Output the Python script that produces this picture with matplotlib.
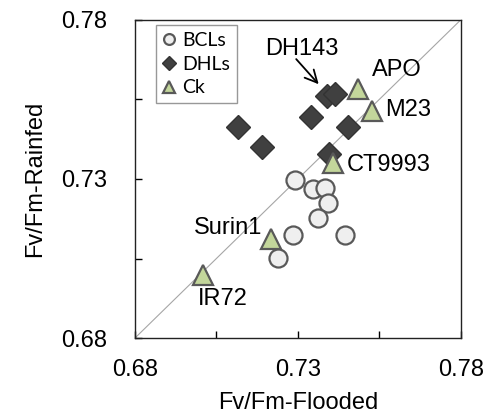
import matplotlib
matplotlib.use("Agg")
import matplotlib.pyplot as plt

plt.rcParams['font.family'] = ['Liberation Sans', 'DejaVu Sans']

# BCLs
bcl_x = [0.7291, 0.7346, 0.7383, 0.7394, 0.7363, 0.7284, 0.7445, 0.7240]
bcl_y = [0.7298, 0.7267, 0.7272, 0.7223, 0.7178, 0.7125, 0.7125, 0.7052]

# DHLs
dhl_x = [0.7117, 0.7189, 0.7342, 0.7389, 0.7415, 0.7455, 0.7397]
dhl_y = [0.7463, 0.7401, 0.7496, 0.7561, 0.7566, 0.7463, 0.7380]

# checks
ck_names = ['APO', 'M23', 'CT9993', 'Surin1', 'IR72']
ck_x = [0.7486, 0.7529, 0.7409, 0.7217, 0.7010]
ck_y = [0.7582, 0.7514, 0.7351, 0.7112, 0.6999]

xticks = [0.68, 0.705, 0.73, 0.755, 0.78]
tick_labels = ['0.68', '', '0.73', '', '0.78']

fs = 17

fig = plt.figure(figsize=(4.86, 4.19), dpi=100)
ax = fig.add_axes([0.2778, 0.1933, 0.670, 0.759])

ax.plot([0.68, 0.78], [0.68, 0.78], color='#a6a6a6', lw=0.8, zorder=1)

ax.plot(bcl_x, bcl_y, 'o', ms=13, mfc='#efefef', mec='#595959', mew=1.6,
        ls='none', label='BCLs', zorder=3)
ax.plot(dhl_x, dhl_y, 'D', ms=12, mfc='#404040', mec='#333333', mew=1,
        ls='none', label='DHLs', zorder=3)
ax.plot(ck_x, ck_y, '^', ms=15, mfc='#c3d69b', mec='#595959', mew=1.6,
        ls='none', label='Ck', zorder=4)

# label offsets (points) for each check
offsets = {'APO': (10, 14, 'left'), 'M23': (9, 1, 'left'),
           'CT9993': (10, -1.5, 'left'), 'Surin1': (-6, 8, 'right'),
           'IR72': (14, -17.5, 'center')}
for name, x, y in zip(ck_names, ck_x, ck_y):
    dx, dy, ha = offsets[name]
    ax.annotate(name, (x, y), xytext=(dx, dy), textcoords='offset points',
                ha=ha, va='center', fontsize=fs)

ax.text(0.7313, 0.7709, 'DH143', ha='center', va='center', fontsize=fs)
ax.annotate('', xy=(0.7364, 0.7598), xytext=(0.7295, 0.7677),
            arrowprops=dict(arrowstyle='->', color='black', lw=1.3,
                            mutation_scale=22, shrinkA=0, shrinkB=0))

ax.set_xlim(0.68, 0.78)
ax.set_ylim(0.68, 0.78)
ax.set_xticks(xticks)
ax.set_xticklabels(tick_labels)
ax.set_yticks(xticks)
ax.set_yticklabels(tick_labels)
ax.tick_params(axis='x', direction='in', length=5, width=1, pad=15, labelsize=fs)
ax.tick_params(axis='y', direction='in', length=5, width=1, pad=20, labelsize=fs)
for s in ax.spines.values():
    s.set_linewidth(1)
    s.set_color('#222222')

ax.set_xlabel('Fv/Fm-Flooded', fontsize=fs, labelpad=8)
ax.set_ylabel('Fv/Fm-Rainfed', fontsize=fs, labelpad=11)

leg = ax.legend(loc='upper left', bbox_to_anchor=(0.064, 0.984), borderaxespad=0,
                markerscale=0.6, handlelength=0.7, handletextpad=0.3,
                labelspacing=0.35, borderpad=0.35, fancybox=False,
                prop={'family': 'Lato', 'size': 14})
leg.get_frame().set_edgecolor('#7f7f7f')
leg.get_frame().set_linewidth(1)

fig.savefig('out.png', dpi=100)
